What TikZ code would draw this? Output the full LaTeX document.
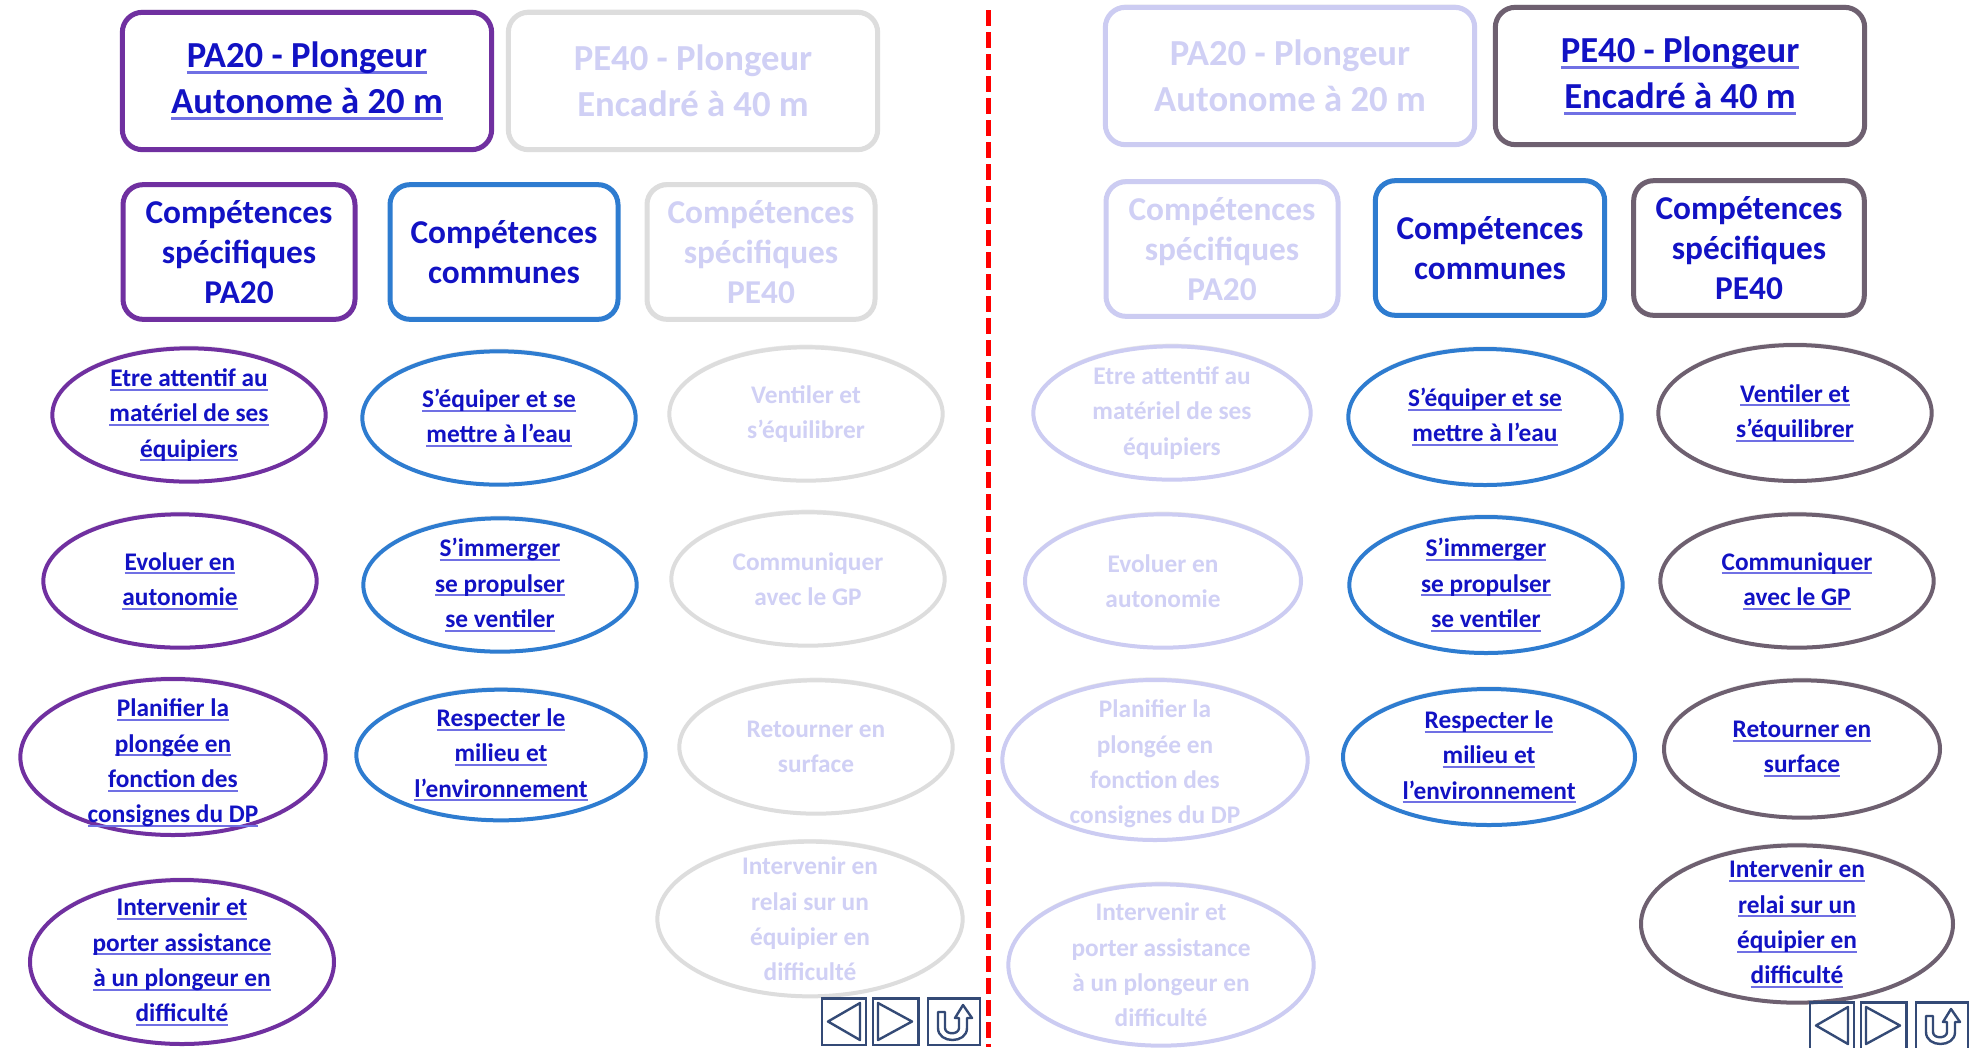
\documentclass[tikz,border=0pt]{standalone}
\usepackage{fontspec}
\setmainfont{Carlito}
\usetikzlibrary{shapes.geometric,shadows}

\definecolor{violetpa}{RGB}{112,48,160}
\definecolor{bleucom}{RGB}{46,124,208}
\definecolor{grispe}{RGB}{110,96,112}
\definecolor{grispale}{RGB}{221,221,221}
\definecolor{lavande}{RGB}{204,204,242}
\definecolor{textepale}{RGB}{208,208,245}
\definecolor{lien}{RGB}{18,18,196}
\definecolor{souligne}{RGB}{112,112,228}
\definecolor{bouton}{RGB}{52,74,118}

\newsavebox\boitelien
\newcommand\souligner[1]{\sbox\boitelien{#1}\rlap{\color{souligne}\rule[-0.17em]{\wd\boitelien}{0.08em}}\usebox\boitelien}

\tikzset{
  ombre/.style={drop shadow={opacity=0.18, shadow xshift=0pt, shadow yshift=2pt}},
  cadre/.style={draw, rectangle, rounded corners=15pt, line width=3.75pt, fill=white, ombre, align=center, inner sep=0pt},
  grandcadre/.style={cadre, minimum width=277pt, minimum height=103pt, font=\bfseries\fontsize{27.5}{34.5}\selectfont},
  petitcadre/.style={cadre, minimum width=171pt, minimum height=101pt, font=\bfseries\fontsize{25}{30}\selectfont},
  ovale/.style={draw, ellipse, line width=3pt, fill=white, ombre, inner sep=0pt, minimum width=205pt, minimum height=100pt},
  texteovale/.style={align=center, font=\bfseries\fontsize{19}{26.5}\selectfont},
  separation/.style={draw=red, line width=3.75pt, dash pattern=on 12pt off 4.5pt},
  bouton/.style={draw=bouton, line width=2pt, rectangle, inner sep=0pt, minimum height=35pt},
  icone/.style={draw=bouton, line width=1.8pt, line join=round}
}

\begin{document}
\begin{tikzpicture}[x=0.75pt,y=0.75pt,yscale=-1,xscale=1]
\useasboundingbox (0,0) rectangle (1982,1047);
\fill[white] (0,0) rectangle (1982,1047);

%Separation
\coordinate (sepH) at (988,10);
\coordinate (sepB) at (988,1047);
\draw[separation] (sepH) -- (sepB);

%%%%%%%%%% partie gauche : PA20

%Niveaux
\node[grandcadre, draw=violetpa, text=lien] (g-pa20) at (307,81) {\souligner{PA20 - Plongeur}\\\souligner{Autonome à 20 m}};
\node[grandcadre, draw=grispale, text=textepale] (g-pe40) at (693,81) {PE40 - Plongeur\\Encadré à 40 m};

%Competences
\node[petitcadre, draw=violetpa, text=lien, minimum width=174pt] (g-specpa) at (239,252) {Compétences\\spécifiques\\PA20};
\node[petitcadre, draw=bleucom, text=lien] (g-comm) at (504,252) {Compétences\\communes};
\node[petitcadre, draw=grispale, text=textepale] (g-specpe) at (761,252) {Compétences\\spécifiques\\PE40};

%Ellipses PA20
\node[ovale, draw=violetpa] (g-pa1) at (189,415) {};
\node[texteovale, text=lien] (g-pa1-t) at (g-pa1) {\souligner{Etre attentif au}\\\souligner{matériel de ses}\\\souligner{équipiers}};
\node[ovale, draw=violetpa] (g-pa2) at (180,581) {};
\node[texteovale, text=lien] (g-pa2-t) at (g-pa2) {\souligner{Evoluer en}\\\souligner{autonomie}};
\node[ovale, draw=violetpa, minimum width=229pt, minimum height=117pt] (g-pa3) at (173,757) {};
\node[texteovale, text=lien] (g-pa3-t) at (173,763) {\souligner{Planifier la}\\\souligner{plongée en}\\\souligner{fonction des}\\\souligner{consignes du DP}};
\node[ovale, draw=violetpa, minimum width=228pt, minimum height=123pt] (g-pa4) at (182,962) {};
\node[texteovale, text=lien] (g-pa4-t) at (g-pa4) {\souligner{Intervenir et}\\\souligner{porter assistance}\\\souligner{à un plongeur en}\\\souligner{difficulté}};

%Ellipses communes
\node[ovale, draw=bleucom] (g-co1) at (499,418) {};
\node[texteovale, text=lien] (g-co1-t) at (g-co1) {\souligner{S’équiper et se}\\\souligner{mettre à l’eau}};
\node[ovale, draw=bleucom] (g-co2) at (500,585) {};
\node[texteovale, text=lien] (g-co2-t) at (g-co2) {\souligner{S’immerger}\\\souligner{se propulser}\\\souligner{se ventiler}};
\node[ovale, draw=bleucom, minimum width=217pt, minimum height=98pt] (g-co3) at (501,755) {};
\node[texteovale, text=lien] (g-co3-t) at (g-co3) {\souligner{Respecter le}\\\souligner{milieu et}\\\souligner{l’environnement}};

%Ellipses PE40 (grisees)
\node[ovale, draw=grispale] (g-pe1) at (806,414) {};
\node[texteovale, text=textepale] (g-pe1-t) at (g-pe1) {Ventiler et\\s’équilibrer};
\node[ovale, draw=grispale] (g-pe2) at (808,579) {};
\node[texteovale, text=textepale] (g-pe2-t) at (g-pe2) {Communiquer\\avec le GP};
\node[ovale, draw=grispale] (g-pe3) at (816,747) {};
\node[texteovale, text=textepale] (g-pe3-t) at (g-pe3) {Retourner en\\surface};
\node[ovale, draw=grispale, minimum width=229pt, minimum height=116pt] (g-pe4) at (810,919) {};
\node[texteovale, text=textepale] (g-pe4-t) at (g-pe4) {Intervenir en\\relai sur un\\équipier en\\difficulté};

%Boutons
\node[bouton, minimum width=33pt] (g-prec) at (844,1021.5) {};
\node[bouton, minimum width=34pt] (g-suiv) at (895.5,1021.5) {};
\node[bouton, minimum width=39pt] (g-retour) at (954,1021.5) {};
\draw[icone] (828,1021.5) -- (860,1003) -- (860,1040) -- cycle;
\draw[icone] (878,1003) -- (912,1021.5) -- (878,1040) -- cycle;
\draw[icone] (938,1012) -- (945,1012) -- (945,1028) .. controls (945,1035) and (959,1035) .. (959,1028) -- (959,1018) -- (955,1018) -- (963,1005) -- (972,1018) -- (967,1018) -- (967,1028) .. controls (967,1044) and (938,1044) .. (938,1028) -- cycle;

%%%%%%%%%% partie droite : PE40

%Niveaux
\node[grandcadre, draw=lavande, text=textepale] (d-pa20) at (1290,76) {PA20 - Plongeur\\Autonome à 20 m};
\node[grandcadre, draw=grispe, text=lien] (d-pe40) at (1680,76) {\souligner{PE40 - Plongeur}\\\souligner{Encadré à 40 m}};

%Competences
\node[petitcadre, draw=lavande, text=textepale, minimum width=174pt] (d-specpa) at (1222,249) {Compétences\\spécifiques\\PA20};
\node[petitcadre, draw=bleucom, text=lien, minimum width=172pt] (d-comm) at (1490,248) {Compétences\\communes};
\node[petitcadre, draw=grispe, text=lien, minimum width=173pt] (d-specpe) at (1749,248) {Compétences\\spécifiques\\PE40};

%Ellipses PA20 (grisees)
\node[ovale, draw=lavande, minimum width=208pt] (d-pa1) at (1172,413) {};
\node[texteovale, text=textepale] (d-pa1-t) at (d-pa1) {Etre attentif au\\matériel de ses\\équipiers};
\node[ovale, draw=lavande, minimum width=207pt] (d-pa2) at (1163,581) {};
\node[texteovale, text=textepale] (d-pa2-t) at (d-pa2) {Evoluer en\\autonomie};
\node[ovale, draw=lavande, minimum width=229pt, minimum height=120pt] (d-pa3) at (1155,760) {};
\node[texteovale, text=textepale] (d-pa3-t) at (1155,764) {Planifier la\\plongée en\\fonction des\\consignes du DP};
\node[ovale, draw=lavande, minimum width=229pt, minimum height=121pt] (d-pa4) at (1161,965) {};
\node[texteovale, text=textepale] (d-pa4-t) at (d-pa4) {Intervenir et\\porter assistance\\à un plongeur en\\difficulté};

%Ellipses communes
\node[ovale, draw=bleucom, minimum height=102pt] (d-co1) at (1485,417) {};
\node[texteovale, text=lien] (d-co1-t) at (d-co1) {\souligner{S’équiper et se}\\\souligner{mettre à l’eau}};
\node[ovale, draw=bleucom, minimum height=102pt] (d-co2) at (1486,585) {};
\node[texteovale, text=lien] (d-co2-t) at (d-co2) {\souligner{S’immerger}\\\souligner{se propulser}\\\souligner{se ventiler}};
\node[ovale, draw=bleucom, minimum width=219pt, minimum height=102pt] (d-co3) at (1489,757) {};
\node[texteovale, text=lien] (d-co3-t) at (d-co3) {\souligner{Respecter le}\\\souligner{milieu et}\\\souligner{l’environnement}};

%Ellipses PE40
\node[ovale, draw=grispe, minimum height=102pt] (d-pe1) at (1795,413) {};
\node[texteovale, text=lien] (d-pe1-t) at (d-pe1) {\souligner{Ventiler et}\\\souligner{s’équilibrer}};
\node[ovale, draw=grispe] (d-pe2) at (1797,581) {};
\node[texteovale, text=lien] (d-pe2-t) at (d-pe2) {\souligner{Communiquer}\\\souligner{avec le GP}};
\node[ovale, draw=grispe, minimum width=207pt, minimum height=103pt] (d-pe3) at (1802,749) {};
\node[texteovale, text=lien] (d-pe3-t) at (d-pe3) {\souligner{Retourner en}\\\souligner{surface}};
\node[ovale, draw=grispe, minimum width=234pt, minimum height=118pt] (d-pe4) at (1797,924) {};
\node[texteovale, text=lien] (d-pe4-t) at (d-pe4) {\souligner{Intervenir en}\\\souligner{relai sur un}\\\souligner{équipier en}\\\souligner{difficulté}};

%Boutons
\begin{scope}[shift={(988,4)}]
\node[bouton, minimum width=33pt] (d-prec) at (844,1021.5) {};
\node[bouton, minimum width=34pt] (d-suiv) at (895.5,1021.5) {};
\node[bouton, minimum width=39pt] (d-retour) at (954,1021.5) {};
\draw[icone] (828,1021.5) -- (860,1003) -- (860,1040) -- cycle;
\draw[icone] (878,1003) -- (912,1021.5) -- (878,1040) -- cycle;
\draw[icone] (938,1012) -- (945,1012) -- (945,1028) .. controls (945,1035) and (959,1035) .. (959,1028) -- (959,1018) -- (955,1018) -- (963,1005) -- (972,1018) -- (967,1018) -- (967,1028) .. controls (967,1044) and (938,1044) .. (938,1028) -- cycle;
\end{scope}

\end{tikzpicture}
\end{document}
